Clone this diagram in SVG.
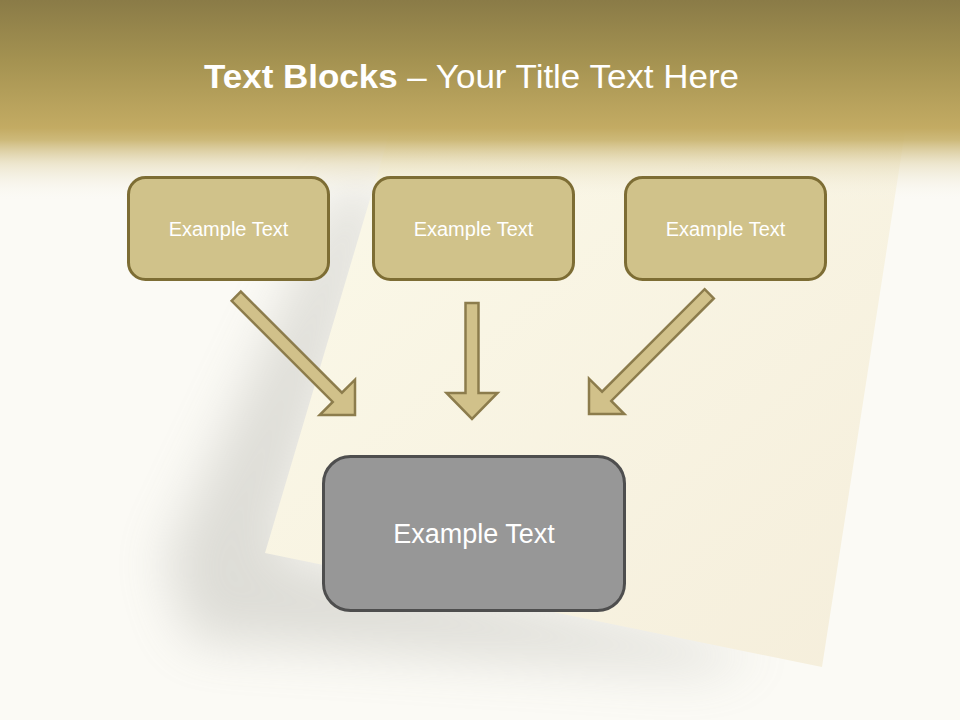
<svg xmlns="http://www.w3.org/2000/svg" width="960" height="720" viewBox="0 0 960 720">
<defs>
<style>
.box{fill:#d0c28a;stroke:#7d6d34;stroke-width:3}
.box2{fill:#979797;stroke:#4e4e4e;stroke-width:3}
.lbl{font-family:"Liberation Sans",Arial,sans-serif;fill:#ffffff;text-anchor:middle}
.arrow{fill:#d1c18a;stroke:#8c7c4c;stroke-width:2.5;stroke-linejoin:miter}
</style>
<linearGradient id="hdr" x1="0" y1="0" x2="0" y2="1">
<stop offset="0" stop-color="#8a7b47"/>
<stop offset="0.3" stop-color="#a49251"/>
<stop offset="0.64" stop-color="#c3ab63"/>
<stop offset="0.7" stop-color="#c8b26c" stop-opacity="0.9"/>
<stop offset="0.82" stop-color="#e2d6af" stop-opacity="0.55"/>
<stop offset="1" stop-color="#f8f6ef" stop-opacity="0"/>
</linearGradient>
<linearGradient id="paper" x1="0" y1="0" x2="1" y2="1">
<stop offset="0" stop-color="#fbf9e9"/>
<stop offset="1" stop-color="#f5eedb"/>
</linearGradient>
<filter id="blur" x="-50%" y="-50%" width="200%" height="200%">
<feGaussianBlur stdDeviation="26"/>
</filter>
</defs>
<rect width="960" height="720" fill="#fbfaf5"/>
<g id="paper-shadow">
<polygon points="340,190 385,190 275,555 760,655 700,670 190,640 165,560" fill="#9a9a92" opacity="0.3" filter="url(#blur)"/>
</g>
<g id="paper-sheet">
<polygon points="392,125 906,125 822,667 265,553" fill="url(#paper)"/>
</g>
<g id="header">
<rect x="0" y="0" width="960" height="200" fill="url(#hdr)"/>
<text x="204" y="88" font-family="Liberation Sans,Arial,sans-serif" font-size="34" fill="#ffffff" textLength="535" lengthAdjust="spacingAndGlyphs"><tspan font-weight="bold">Text Blocks</tspan> – Your Title Text Here</text>
</g>
<g id="connectors">
<path class="arrow" transform="translate(355,415) rotate(-45)" d="M -6.5,-168 L 6.5,-168 L 6.5,-25 L 25,-25 L 0,0 L -25,-25 L -6.5,-25 Z"/>
<path class="arrow" transform="translate(472,419)" d="M -6.5,-116 L 6.5,-116 L 6.5,-26 L 25.5,-26 L 0,0 L -25.5,-26 L -6.5,-26 Z"/>
<path class="arrow" transform="translate(589,414) rotate(45)" d="M -6.5,-170 L 6.5,-170 L 6.5,-25 L 25,-25 L 0,0 L -25,-25 L -6.5,-25 Z"/>
</g>
<g id="node1">
<rect class="box" x="128.5" y="177.5" width="200" height="102" rx="17"/>
<text class="lbl" x="228.5" y="236" font-size="20">Example Text</text>
</g>
<g id="node2">
<rect class="box" x="373.5" y="177.5" width="200" height="102" rx="17"/>
<text class="lbl" x="473.5" y="236" font-size="20">Example Text</text>
</g>
<g id="node3">
<rect class="box" x="625.5" y="177.5" width="200" height="102" rx="17"/>
<text class="lbl" x="725.5" y="236" font-size="20">Example Text</text>
</g>
<g id="node4">
<rect class="box2" x="323.5" y="456.5" width="301" height="154" rx="27"/>
<text class="lbl" x="474" y="543" font-size="27">Example Text</text>
</g>
</svg>
